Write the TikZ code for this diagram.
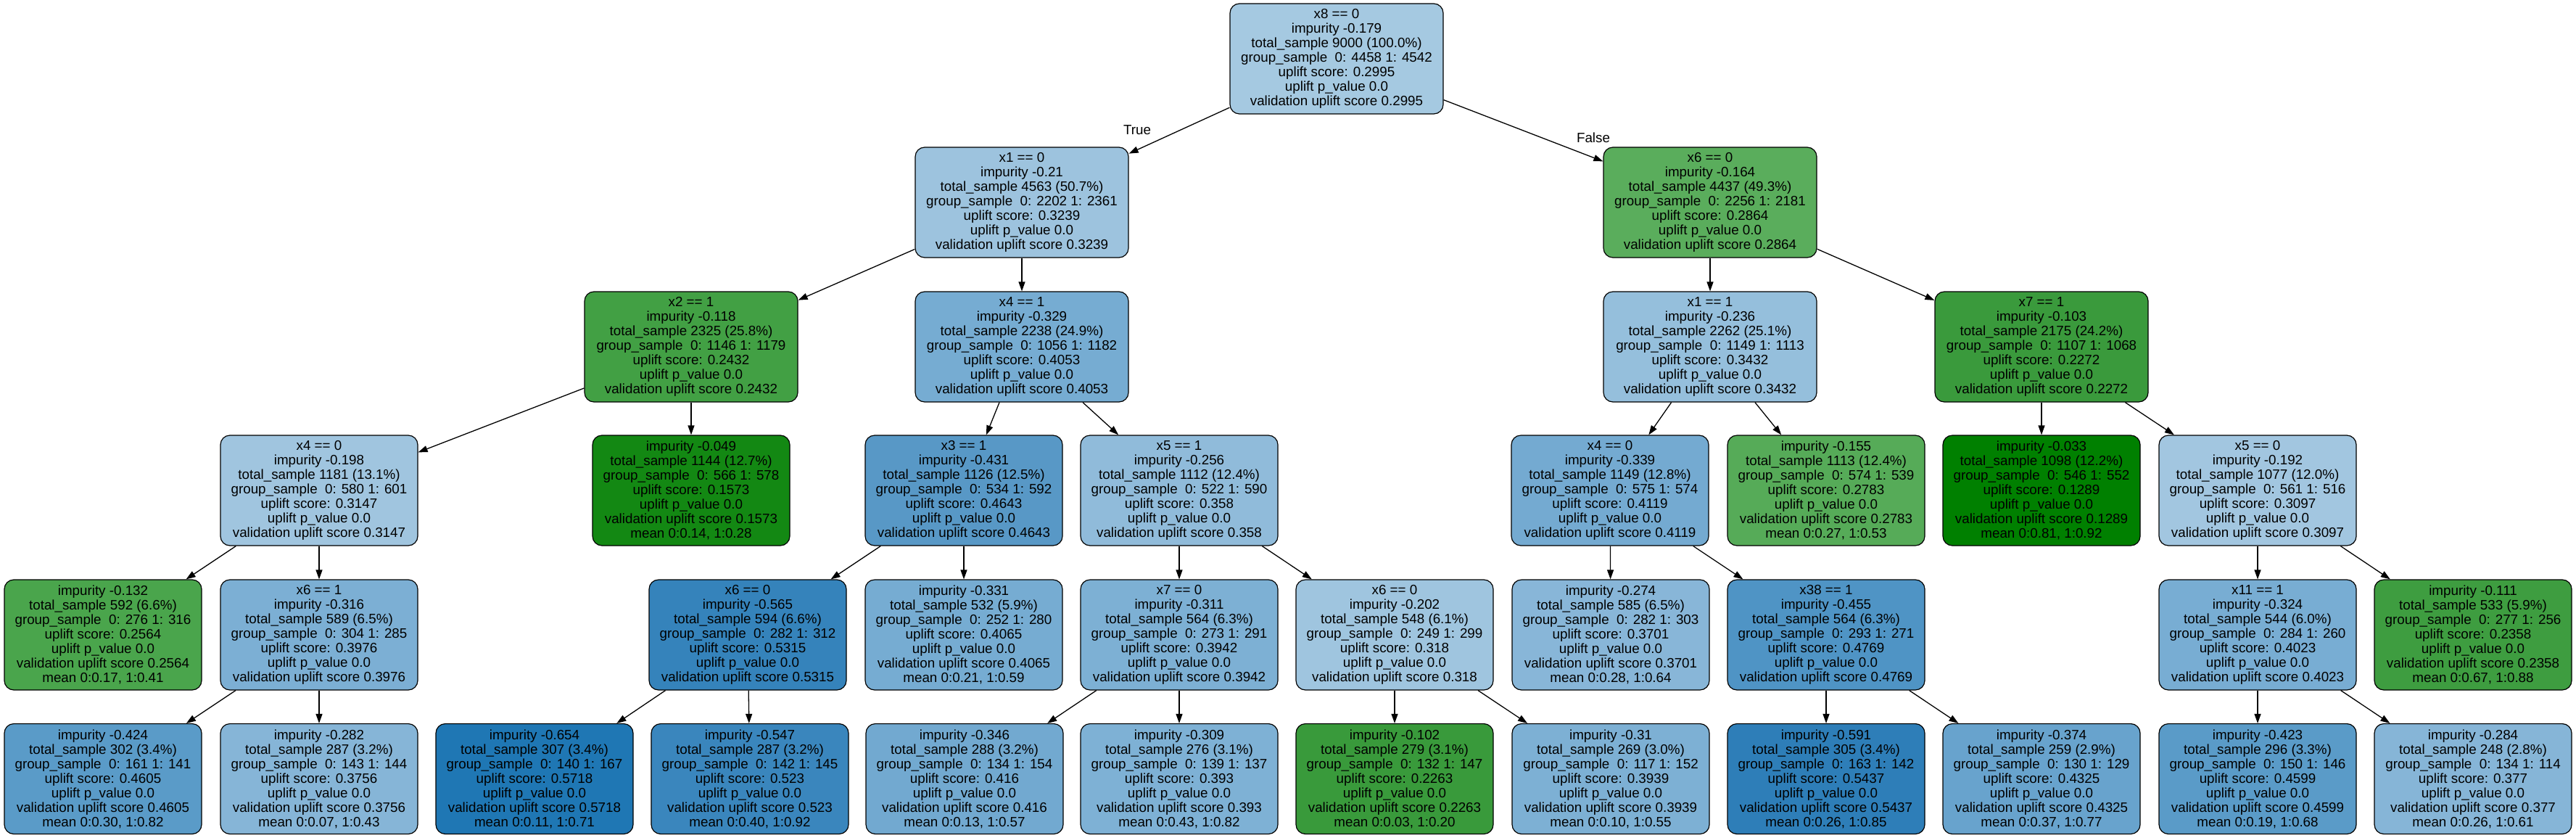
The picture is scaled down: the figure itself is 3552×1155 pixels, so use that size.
\documentclass[tikz,border=0pt]{standalone}
\usepackage{fontspec}
\setmainfont{Liberation Sans}
\usetikzlibrary{arrows.meta}
\newcommand{\mkint}[6]{#1\\impurity #2\\total\_sample #3\\group\_sample\ \ 0: #4 1: #5\\uplift score: #6\\uplift p\_value 0.0\\validation uplift score #6}
\newcommand{\mkleaf}[7]{impurity #1\\total\_sample #2\\group\_sample\ \ 0: #3 1: #4\\uplift score: #5\\uplift p\_value 0.0\\validation uplift score #5\\mean 0:#6, 1:#7}
\definecolor{cA5C9E1}{HTML}{A5C9E1}
\definecolor{c9DC3DE}{HTML}{9DC3DE}
\definecolor{c5AAD5C}{HTML}{5AAD5C}
\definecolor{c42A044}{HTML}{42A044}
\definecolor{c7BAFD3}{HTML}{76ACD2}
\definecolor{c95BFDC}{HTML}{95BFDC}
\definecolor{c3A9A3C}{HTML}{3A9A3C}
\definecolor{cA0C5DF}{HTML}{A0C5DF}
\definecolor{c138813}{HTML}{138813}
\definecolor{c5E9DC9}{HTML}{5898C6}
\definecolor{c90BBDA}{HTML}{90BBDA}
\definecolor{c78ADD2}{HTML}{74AAD1}
\definecolor{c56AB58}{HTML}{56AB58}
\definecolor{c008000}{HTML}{008000}
\definecolor{cA2C6E0}{HTML}{A2C6E0}
\definecolor{c4AA54C}{HTML}{4AA54C}
\definecolor{c7FB1D4}{HTML}{7CAFD4}
\definecolor{c3886BC}{HTML}{3583BB}
\definecolor{c7AAFD3}{HTML}{76ACD2}
\definecolor{c80B2D4}{HTML}{7DB0D4}
\definecolor{c9FC5DF}{HTML}{9FC5DF}
\definecolor{c8BB8D8}{HTML}{88B6D8}
\definecolor{c5799C7}{HTML}{4F94C5}
\definecolor{c7CB0D3}{HTML}{78ADD3}
\definecolor{c3E9D40}{HTML}{3E9D40}
\definecolor{c609FCA}{HTML}{5A9BC8}
\definecolor{c88B7D7}{HTML}{86B5D7}
\definecolor{c1F77B4}{HTML}{1F77B4}
\definecolor{c3D89BE}{HTML}{3A86BD}
\definecolor{c76ACD1}{HTML}{72A9D0}
\definecolor{c81B2D5}{HTML}{7EB1D5}
\definecolor{c399A3B}{HTML}{399A3B}
\definecolor{c3182BA}{HTML}{2E7EB8}
\definecolor{c6EA7CF}{HTML}{68A3CD}
\tikzset{
  box/.style={draw=black, line width=0.6pt, rounded corners=6.5pt, align=center,
    inner sep=0pt, minimum height=76pt, minimum width=136pt,
    font=\fontsize{9.4}{10}\selectfont},
  wide/.style={minimum width=147pt},
  edge/.style={draw=black, line width=0.65pt, -{Triangle[length=6.5pt,width=4.5pt]}},
  elabel/.style={inner sep=0pt, font=\fontsize{9.4}{10}\selectfont},
}
\begin{document}
\begin{tikzpicture}[x=0.5pt, y=-0.5pt]
\useasboundingbox (0,0) rectangle (3552,1155);
% level 0
\node[box, wide, fill=cA5C9E1] (n0) at (1843,81) {\mkint{x8 == 0}{-0.179}{9000 (100.0\%)}{4458}{4542}{0.2995}};
% level 1
\node[box, wide, fill=c9DC3DE] (n1) at (1409,279) {\mkint{x1 == 0}{-0.21}{4563 (50.7\%)}{2202}{2361}{0.3239}};
\node[box, wide, fill=c5AAD5C] (n2) at (2358,279) {\mkint{x6 == 0}{-0.164}{4437 (49.3\%)}{2256}{2181}{0.2864}};
% level 2
\node[box, wide, fill=c42A044] (n3) at (953,478) {\mkint{x2 == 1}{-0.118}{2325 (25.8\%)}{1146}{1179}{0.2432}};
\node[box, wide, fill=c7BAFD3] (n4) at (1409,478) {\mkint{x4 == 1}{-0.329}{2238 (24.9\%)}{1056}{1182}{0.4053}};
\node[box, wide, fill=c95BFDC] (n5) at (2358,478) {\mkint{x1 == 1}{-0.236}{2262 (25.1\%)}{1149}{1113}{0.3432}};
\node[box, wide, fill=c3A9A3C] (n6) at (2815,478) {\mkint{x7 == 1}{-0.103}{2175 (24.2\%)}{1107}{1068}{0.2272}};
% level 3
\node[box, fill=cA0C5DF] (n7) at (440,676) {\mkint{x4 == 0}{-0.198}{1181 (13.1\%)}{580}{601}{0.3147}};
\node[box, fill=c138813] (n8) at (953,676) {\mkleaf{-0.049}{1144 (12.7\%)}{566}{578}{0.1573}{0.14}{0.28}};
\node[box, fill=c5E9DC9] (n9) at (1329,676) {\mkint{x3 == 1}{-0.431}{1126 (12.5\%)}{534}{592}{0.4643}};
\node[box, fill=c90BBDA] (n10) at (1626,676) {\mkint{x5 == 1}{-0.256}{1112 (12.4\%)}{522}{590}{0.358}};
\node[box, fill=c78ADD2] (n11) at (2220,676) {\mkint{x4 == 0}{-0.339}{1149 (12.8\%)}{575}{574}{0.4119}};
\node[box, fill=c56AB58] (n12) at (2518,676) {\mkleaf{-0.155}{1113 (12.4\%)}{574}{539}{0.2783}{0.27}{0.53}};
\node[box, fill=c008000] (n13) at (2815,676) {\mkleaf{-0.033}{1098 (12.2\%)}{546}{552}{0.1289}{0.81}{0.92}};
\node[box, fill=cA2C6E0] (n14) at (3113,676) {\mkint{x5 == 0}{-0.192}{1077 (12.0\%)}{561}{516}{0.3097}};
% level 4
\node[box, fill=c4AA54C] (n15) at (142,875) {\mkleaf{-0.132}{592 (6.6\%)}{276}{316}{0.2564}{0.17}{0.41}};
\node[box, fill=c7FB1D4] (n16) at (440,875) {\mkint{x6 == 1}{-0.316}{589 (6.5\%)}{304}{285}{0.3976}};
\node[box, fill=c3886BC] (n17) at (1031,875) {\mkint{x6 == 0}{-0.565}{594 (6.6\%)}{282}{312}{0.5315}};
\node[box, fill=c7AAFD3] (n18) at (1329,875) {\mkleaf{-0.331}{532 (5.9\%)}{252}{280}{0.4065}{0.21}{0.59}};
\node[box, fill=c80B2D4] (n19) at (1626,875) {\mkint{x7 == 0}{-0.311}{564 (6.3\%)}{273}{291}{0.3942}};
\node[box, fill=c9FC5DF] (n20) at (1923,875) {\mkint{x6 == 0}{-0.202}{548 (6.1\%)}{249}{299}{0.318}};
\node[box, fill=c8BB8D8] (n21) at (2221,875) {\mkleaf{-0.274}{585 (6.5\%)}{282}{303}{0.3701}{0.28}{0.64}};
\node[box, fill=c5799C7] (n22) at (2518,875) {\mkint{x38 == 1}{-0.455}{564 (6.3\%)}{293}{271}{0.4769}};
\node[box, fill=c7CB0D3] (n23) at (3113,875) {\mkint{x11 == 1}{-0.324}{544 (6.0\%)}{284}{260}{0.4023}};
\node[box, fill=c3E9D40] (n24) at (3410,875) {\mkleaf{-0.111}{533 (5.9\%)}{277}{256}{0.2358}{0.67}{0.88}};
% level 5
\node[box, fill=c609FCA] (b1) at (142,1073.5) {\mkleaf{-0.424}{302 (3.4\%)}{161}{141}{0.4605}{0.30}{0.82}};
\node[box, fill=c88B7D7] (b2) at (440,1073.5) {\mkleaf{-0.282}{287 (3.2\%)}{143}{144}{0.3756}{0.07}{0.43}};
\node[box, fill=c1F77B4] (b3) at (737,1073.5) {\mkleaf{-0.654}{307 (3.4\%)}{140}{167}{0.5718}{0.11}{0.71}};
\node[box, fill=c3D89BE] (b4) at (1034,1073.5) {\mkleaf{-0.547}{287 (3.2\%)}{142}{145}{0.523}{0.40}{0.92}};
\node[box, fill=c76ACD1] (b5) at (1330,1073.5) {\mkleaf{-0.346}{288 (3.2\%)}{134}{154}{0.416}{0.13}{0.57}};
\node[box, fill=c81B2D5] (b6) at (1626,1073.5) {\mkleaf{-0.309}{276 (3.1\%)}{139}{137}{0.393}{0.43}{0.82}};
\node[box, fill=c399A3B] (b7) at (1923,1073.5) {\mkleaf{-0.102}{279 (3.1\%)}{132}{147}{0.2263}{0.03}{0.20}};
\node[box, fill=c80B2D4] (b8) at (2221,1073.5) {\mkleaf{-0.31}{269 (3.0\%)}{117}{152}{0.3939}{0.10}{0.55}};
\node[box, fill=c3182BA] (b9) at (2518,1073.5) {\mkleaf{-0.591}{305 (3.4\%)}{163}{142}{0.5437}{0.26}{0.85}};
\node[box, fill=c6EA7CF] (b10) at (2815,1073.5) {\mkleaf{-0.374}{259 (2.9\%)}{130}{129}{0.4325}{0.37}{0.77}};
\node[box, fill=c609FCA] (b11) at (3113,1073.5) {\mkleaf{-0.423}{296 (3.3\%)}{150}{146}{0.4599}{0.19}{0.68}};
\node[box, fill=c88B7D7] (b12) at (3410,1073.5) {\mkleaf{-0.284}{248 (2.8\%)}{134}{114}{0.377}{0.26}{0.61}};
% edges
\draw[edge] (n0) -- (n1);
\draw[edge] (n0) -- (n2);
\draw[edge] (n1) -- (n3);
\draw[edge] (n1) -- (n4);
\draw[edge] (n2) -- (n5);
\draw[edge] (n2) -- (n6);
\draw[edge] (n3) -- (n7);
\draw[edge] (n3) -- (n8);
\draw[edge] (n4) -- (n9);
\draw[edge] (n4) -- (n10);
\draw[edge] (n5) -- (n11);
\draw[edge] (n5) -- (n12);
\draw[edge] (n6) -- (n13);
\draw[edge] (n6) -- (n14);
\draw[edge] (n7) -- (n15);
\draw[edge] (n7) -- (n16);
\draw[edge] (n9) -- (n17);
\draw[edge] (n9) -- (n18);
\draw[edge] (n10) -- (n19);
\draw[edge] (n10) -- (n20);
\draw[edge] (n11) -- (n21);
\draw[edge] (n11) -- (n22);
\draw[edge] (n14) -- (n23);
\draw[edge] (n14) -- (n24);
\draw[edge] (n16) -- (b1);
\draw[edge] (n16) -- (b2);
\draw[edge] (n17) -- (b3);
\draw[edge] (n17) -- (b4);
\draw[edge] (n19) -- (b5);
\draw[edge] (n19) -- (b6);
\draw[edge] (n20) -- (b7);
\draw[edge] (n20) -- (b8);
\draw[edge] (n22) -- (b9);
\draw[edge] (n22) -- (b10);
\draw[edge] (n23) -- (b11);
\draw[edge] (n23) -- (b12);
% edge labels
\node[elabel] (ltrue) at (1568,179) {True};
\node[elabel] (lfalse) at (2197,190) {False};
\end{tikzpicture}
\end{document}
